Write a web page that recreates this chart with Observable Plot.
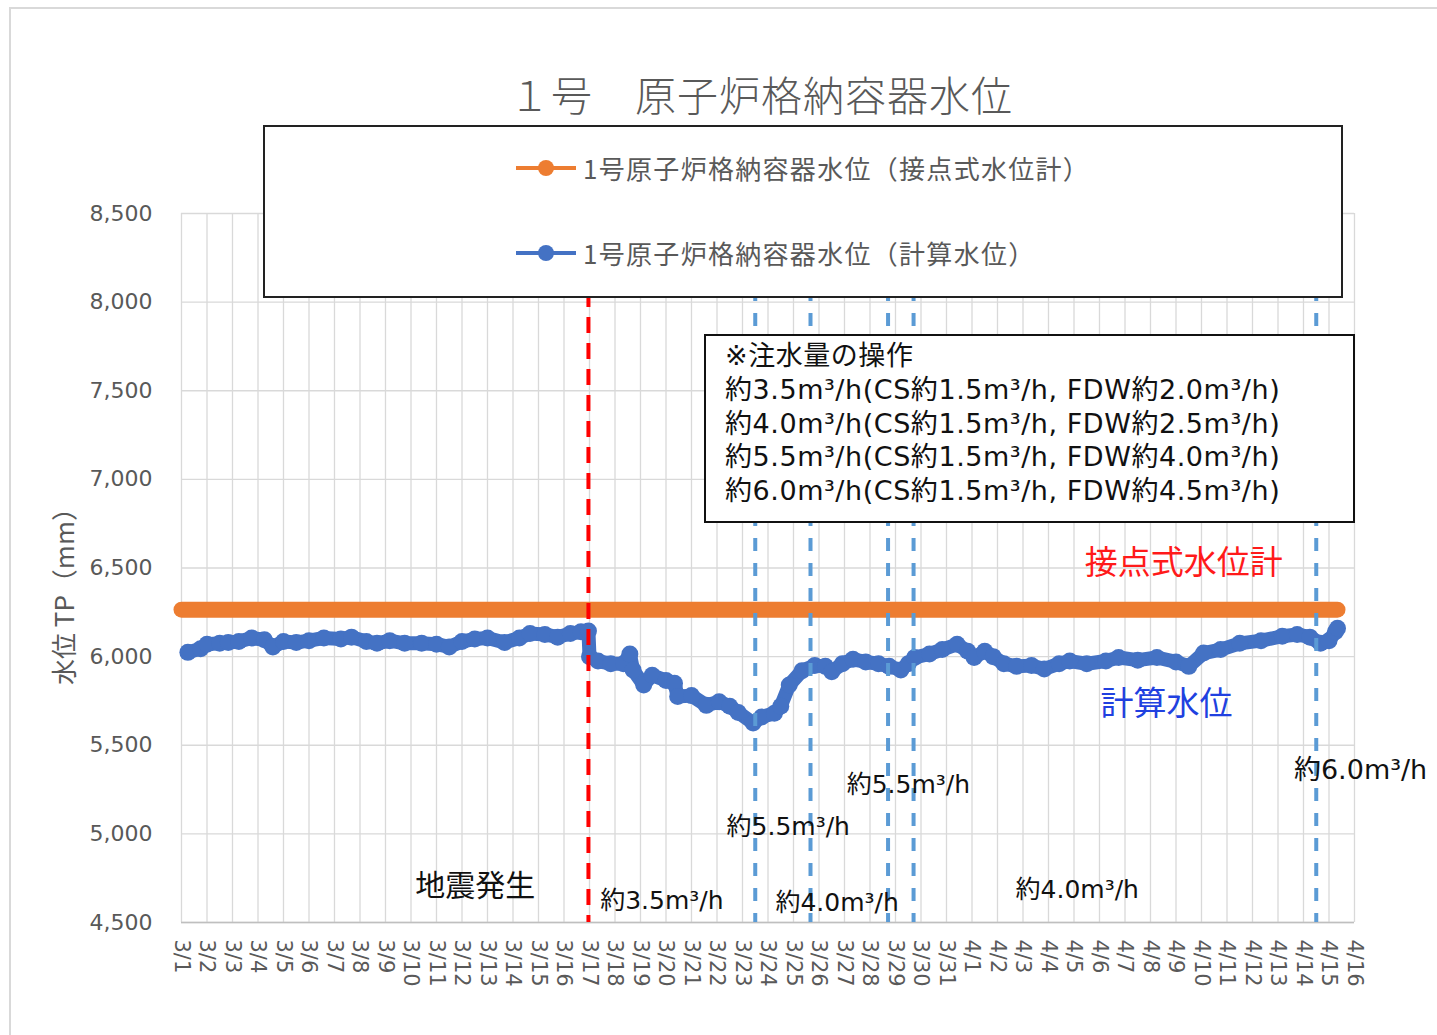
<!DOCTYPE html>
<html><head><meta charset="utf-8">
<script src="https://cdn.jsdelivr.net/npm/d3@7"></script>
<script src="https://cdn.jsdelivr.net/npm/@observablehq/plot@0.6"></script>
<style>
body{margin:0;background:#fff;width:1437px;height:1035px;overflow:hidden;position:relative;font-family:"Noto Sans CJK JP","Noto Sans",sans-serif}
#frame{position:absolute;left:9px;top:7px;width:1440px;height:1040px;border:2px solid #d9d9d9;box-sizing:border-box}
#chart{position:absolute;left:0;top:0}
#title{position:absolute;left:0;width:1522px;top:63px;text-align:center;font-size:41px;color:#595959;font-weight:300;letter-spacing:1px}
#legend{position:absolute;left:263px;top:125px;width:1080px;height:173px;border:2px solid #222;background:#fff;box-sizing:border-box}
.li{position:absolute;left:250px;font-size:26px;letter-spacing:1.3px;color:#595959;display:flex;align-items:center;white-space:nowrap}
.li svg{margin-right:6px}
#note{position:absolute;left:704px;top:334px;width:651px;height:189px;border:2px solid #111;background:#fff;box-sizing:border-box;padding:3px 0 0 19px;font-family:"DejaVu Sans","Noto Sans CJK JP",sans-serif;font-size:27px;letter-spacing:0.55px;line-height:33.8px;color:#111;white-space:nowrap}
#ylab{position:absolute;left:62px;top:590px;transform:translate(-50%,-50%) rotate(-90deg);font-size:26px;color:#595959;white-space:nowrap}
</style></head><body>
<div id="frame"></div>
<div id="chart"></div>
<div id="title"></div>
<div id="ylab"></div>
<div id="legend"></div>
<div id="note"></div>
<script>
// ---- data ----
const chartTitle = "１号　原子炉格納容器水位";
const yTitle = "水位 TP（mm）";
const seriesNames = ["1号原子炉格納容器水位（接点式水位計）", "1号原子炉格納容器水位（計算水位）"];
const yTicks = [4500, 5000, 5500, 6000, 6500, 7000, 7500, 8000, 8500];
const xStart = "03-01T00", xEnd = "04-16T00";

// contact-type level gauge (constant)
const contactDates = ["03-01T00", "04-15T08"];
const contactLevels = [6265, 6265];

// calculated water level
const calcDates = [
 "03-01T06","03-01T18","03-02T00","03-02T12","03-02T20","03-03T06","03-03T18","03-04T06","03-04T14","03-05T00",
 "03-05T12","03-06T00","03-06T14","03-07T06","03-07T16","03-08T06","03-08T16","03-09T04","03-09T18","03-10T10",
 "03-11T00","03-11T12","03-12T00","03-12T12","03-13T00","03-13T16","03-14T06","03-14T16","03-15T06","03-15T18",
 "03-16T06","03-16T16","03-16T23","03-17T00","03-17T08","03-17T20","03-18T08","03-18T14","03-18T17","03-19T03",
 "03-19T11","03-20T00","03-20T08","03-20T11","03-21T00","03-21T14","03-22T02","03-22T12","03-22T20","03-23T10",
 "03-23T18","03-24T06","03-24T12","03-24T20","03-25T08","03-25T20","03-26T06","03-26T12","03-26T22","03-27T08",
 "03-27T20","03-28T08","03-28T18","03-29T05","03-29T12","03-29T18","03-30T08","03-30T20","03-31T10","03-31T20",
 "04-01T02","04-01T12","04-01T20","04-02T06","04-02T18","04-03T08","04-03T20","04-04T10","04-04T20","04-05T12",
 "04-06T06","04-06T18","04-07T12","04-08T06","04-09T00","04-09T12","04-10T02","04-10T18","04-11T12","04-12T08",
 "04-13T04","04-13T18","04-14T06","04-14T16","04-15T00","04-15T06","04-15T08"
];
const calcLevels = [
 6024,6045,6070,6075,6080,6085,6105,6095,6055,6085,
 6080,6090,6105,6100,6110,6085,6075,6090,6075,6075,
 6070,6055,6085,6100,6105,6080,6105,6130,6125,6110,
 6130,6140,6145,6000,5975,5960,5960,6015,5925,5840,
 5895,5865,5850,5775,5780,5725,5745,5720,5685,5625,
 5660,5680,5720,5840,5920,5950,5945,5915,5960,5985,
 5970,5960,5945,5925,5960,5995,6015,6040,6070,6030,
 5995,6030,6000,5960,5945,5950,5930,5960,5975,5960,
 5975,5995,5980,5995,5970,5945,6020,6040,6075,6090,
 6115,6125,6110,6075,6090,6140,6160
];

// events
const quakeDate = "03-16T23";
const changeDates = ["03-23T12", "03-25T16", "03-28T17", "03-29T17", "04-14T12"];

// annotation texts (black), anchored at data coordinates
const annoLabels = ["約3.5m³/h", "約4.0m³/h", "約5.5m³/h", "約5.5m³/h", "約4.0m³/h"];
const annoDates  = ["03-17T10", "03-24T07", "03-22T09", "03-27T02", "04-02T17"];
const annoLevels = [4623, 4612, 5041, 5278, 4685];
const quakeLabel = "地震発生", quakeLabelDate = "03-10T04", quakeLabelLevel = 4702;
const lastLabel = "約6.0m³/h", lastDate = "04-13T15", lastLevel = 5357;
const contactLabel = "接点式水位計", contactLabelDate = "04-05T10", contactLabelLevel = 6525;
const calcLabel = "計算水位", calcLabelDate = "04-06T01", calcLabelLevel = 5729;

const noteLines = [
 "※注水量の操作",
 "約3.5m³/h(CS約1.5m³/h, FDW約2.0m³/h)",
 "約4.0m³/h(CS約1.5m³/h, FDW約2.5m³/h)",
 "約5.5m³/h(CS約1.5m³/h, FDW約4.0m³/h)",
 "約6.0m³/h(CS約1.5m³/h, FDW約4.5m³/h)"
];

// ---- build ----
const T = s => new Date(`2022-${s}:00Z`);
const ORANGE = "#ED7D31", BLUE = "#4472C4", LBLUE = "#5B9BD5";
const JP = "Noto Sans CJK JP";
const MIX = "DejaVu Sans, Noto Sans CJK JP";
const xTicks = d3.utcDay.range(T(xStart), new Date(T(xEnd).getTime() + 3600e3));
const calc = calcDates.map((d, i) => ({date: T(d), level: calcLevels[i]}));
const contact = contactDates.map((d, i) => ({date: T(d), level: contactLevels[i]}));
const annoIdx = annoLabels.map((_, i) => i);
const one = (d, v, t) => ({x: () => T(d), y: () => v, text: () => t});

const plot = Plot.plot({
  width: 1437, height: 1035,
  marginLeft: 181, marginRight: 83, marginTop: 213, marginBottom: 113,
  style: {fontFamily: "DejaVu Sans", color: "#595959", background: "transparent", overflow: "visible"},
  x: {type: "utc", domain: [T(xStart), T(xEnd)]},
  y: {domain: [4500, 8500]},
  marks: [
    Plot.ruleX(xTicks, {stroke: "#d9d9d9", strokeWidth: 1.3}),
    Plot.ruleY(yTicks, {stroke: "#d9d9d9", strokeWidth: 1.3}),
    Plot.ruleY([4500], {stroke: "#bfbfbf", strokeWidth: 1.5}),
    Plot.axisX({ticks: xTicks, tickFormat: d3.utcFormat("%-m/%-d"), tickRotate: 90, tickSize: 0, tickPadding: 17, fontSize: 21, fill: "#595959", label: null}),
    Plot.axisY({ticks: yTicks, tickFormat: d3.format(","), tickSize: 0, tickPadding: 29, fontSize: 22, fill: "#595959", label: null}),
    Plot.line(contact, {x: "date", y: "level", stroke: ORANGE, strokeWidth: 16, strokeLinecap: "round"}),
    Plot.line(calc, {x: "date", y: "level", stroke: BLUE, strokeWidth: 14, strokeLinejoin: "round", strokeLinecap: "round"}),
    Plot.dot(calc, {x: "date", y: "level", r: 8.5, fill: BLUE, stroke: "none"}),
    Plot.ruleX([T(quakeDate)], {stroke: "#ff0000", strokeWidth: 4, strokeDasharray: "16,10"}),
    Plot.ruleX(changeDates.map(T), {stroke: LBLUE, strokeWidth: 4, strokeDasharray: "13,12"}),
    Plot.text(annoIdx, {x: i => T(annoDates[i]), y: i => annoLevels[i], text: i => annoLabels[i], textAnchor: "start", fontSize: 25, fill: "#111", fontFamily: MIX}),
    Plot.text([0], {...one(quakeLabelDate, quakeLabelLevel, quakeLabel), textAnchor: "start", fontSize: 30, fill: "#111", fontFamily: JP}),
    Plot.text([0], {...one(lastDate, lastLevel, lastLabel), textAnchor: "start", fontSize: 27, fill: "#111", fontFamily: MIX}),
    Plot.text([0], {...one(contactLabelDate, contactLabelLevel, contactLabel), textAnchor: "start", fontSize: 33, fill: "#ff1a1a", fontFamily: JP}),
    Plot.text([0], {...one(calcLabelDate, calcLabelLevel, calcLabel), textAnchor: "start", fontSize: 33, fill: "#2040e0", fontFamily: JP})
  ]
});
document.getElementById("chart").appendChild(plot);

document.getElementById("title").textContent = chartTitle;
document.getElementById("ylab").textContent = yTitle;
const legend = document.getElementById("legend");
[ORANGE, BLUE].forEach((c, i) => {
  const div = document.createElement("div");
  div.className = "li";
  div.style.top = (i === 0 ? 22 : 107) + "px";
  div.innerHTML = `<svg width="62" height="20"><line x1="1" y1="10" x2="61" y2="10" stroke="${c}" stroke-width="4"/><circle cx="31" cy="10" r="8" fill="${c}"/></svg><span>${seriesNames[i]}</span>`;
  legend.appendChild(div);
});
document.getElementById("note").innerHTML = noteLines.map(s => `<div>${s}</div>`).join("");
</script>
</body></html>
